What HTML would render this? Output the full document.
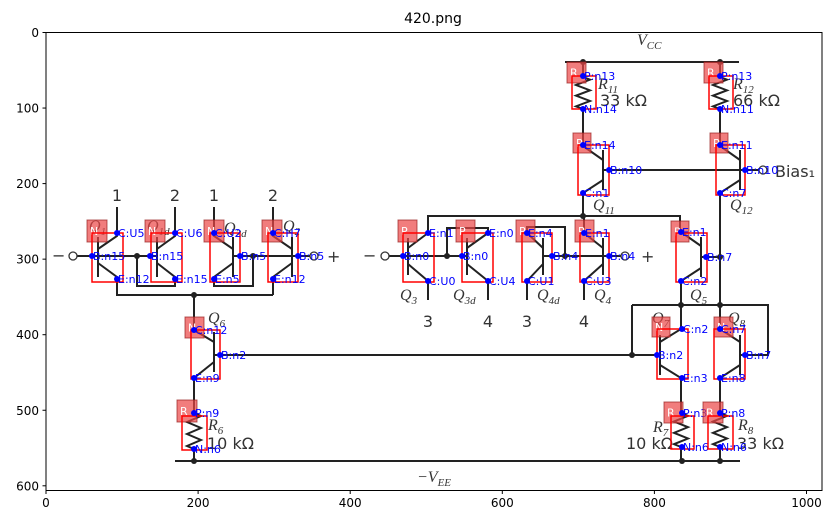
<!DOCTYPE html>
<html><head><meta charset="utf-8"><style>
html,body{margin:0;padding:0;background:#fff;}
svg{display:block;font-family:"DejaVu Sans","Liberation Sans",sans-serif;}
</style></head><body>
<svg id="fig" width="831" height="525" viewBox="0 0 831 525" xmlns="http://www.w3.org/2000/svg">
<text x="433" y="23" font-size="14" text-anchor="middle">420.png</text>
<g id="circuit" stroke="#222" stroke-width="2" fill="none"></g>
<g id="labels" fill="#333"></g>
<g id="annot"></g>
<rect x="46" y="32.5" width="776" height="458" fill="none" stroke="#000" stroke-width="1"/>
<g id="ticks" font-size="12" fill="#000"></g>
</svg>
<script>
const xTicks=[0,200,400,600,800,1000];
const yTicks=[0,100,200,300,400,500,600];
const NS="http://www.w3.org/2000/svg";
function X(v){return 46+v*0.7605;}
function Y(v){return 32.5+v*0.7555;}
function mk(tag,attrs,parent){const e=document.createElementNS(NS,tag);for(const k in attrs)e.setAttribute(k,attrs[k]);parent.appendChild(e);return e;}
const ticks=document.getElementById('ticks');
xTicks.forEach(v=>{
  const l=mk('line',{x1:X(v),x2:X(v),y1:490.5,y2:494,stroke:'#000'},ticks);
  
  
  const t=mk('text',{x:X(v),y:507,'text-anchor':'middle'},ticks);t.textContent=v;
  
  
});
yTicks.forEach(v=>{
  const l=mk('line',{x1:42.5,x2:46,y1:Y(v),y2:Y(v),stroke:'#000'},ticks);
  
  
  const t=mk('text',{x:39,y:Y(v)+4.5,'text-anchor':'end'},ticks);t.textContent=v;
  
  
});
const C=document.getElementById('circuit');
const wires=[
 [[77,256],[157,256]],
 [[98,237],[98,277]],[[98,249],[117,236],[117,207]],[[98,263],[117,277],[117,295],[273,295]],
 [[157,237],[157,277]],[[157,249],[175,236],[175,207]],[[157,263],[175,277],[175,286],[137,286],[137,256]],
 [[233,237],[233,277]],[[233,249],[214,236],[214,207]],[[233,263],[214,277],[214,286],[253,286],[253,256]],
 [[292,237],[292,277]],[[292,249],[273,236],[273,207]],[[292,263],[273,277],[273,295]],
 [[233,256],[310,256]],
 [[194,295],[194,330],[214,342]],[[214,332],[214,372]],[[214,362],[194,378],[194,413]],[[194,449],[194,461]],
 [[214,355],[660,355]],[[175,461],[740,461]],
 [[388,256],[467,256]],
 [[408,238],[408,275]],[[428,233],[408,248]],[[428,233],[428,216],[680,216],[680,232]],[[408,264],[428,281],[428,300]],
 [[467,238],[467,275]],[[488,233],[467,248]],[[488,233],[488,228],[447,228],[447,256]],[[467,264],[488,281],[488,300]],
 [[543,238],[543,275]],[[527,233],[543,248]],[[527,233],[527,227],[565,227],[565,256]],[[543,264],[527,281],[527,300]],
 [[603,238],[603,275]],[[584,233],[603,248]],[[584,233],[584,216]],[[603,264],[584,281],[584,300]],
 [[543,256],[622,256]],
 [[565,62],[739,62]],
 [[583,62],[583,77]],[[583,109],[583,146],[603,160]],[[603,150],[603,190]],[[603,180],[583,193],[583,216]],
 [[720,62],[720,77]],[[720,109],[720,146],[740,160]],[[740,150],[740,190]],[[740,180],[720,193],[720,329],[740,342]],
 [[603,170],[759,170]],
 [[681,232],[701,246]],[[701,237],[701,277]],[[701,268],[681,281],[681,329],[660,342]],[[701,257],[720,257]],
 [[632,305],[768,305],[768,355],[740,355]],[[632,305],[632,355]],
 [[660,335],[660,375]],[[660,365],[681,378],[681,413]],[[681,447],[681,461]],
 [[740,335],[740,375]],[[740,365],[720,378],[720,413]],[[720,447],[720,461]]
];
wires.forEach(w=>{
  const p=mk('polyline',{points:w.map(q=>q.join(',')).join(' ')},C);
  
  
});
function zig(x,y1,y2){let pts=[[x,y1]];const n=6,h=(y2-y1)/n;for(let i=0;i<n;i++)pts.push([x+(i%2?-7:7),y1+h*(i+0.5)]);pts.push([x,y2]);return pts;}
[[583,77,109],[720,77,109],[194,413,449],[681,413,447],[720,413,447]].forEach(r=>{
  const p=mk('polyline',{points:zig(r[0],r[1],r[2]).map(q=>q.join(',')).join(' ')},C);
  
  
});
[[137,256],[253,256],[194,295],[194,461],[682,461],[720,461],[447,256],[565,256],[583,216],[583,62],[720,62],[720,257],[681,305],[720,305],[632,355]].forEach(n=>{
  const c=mk('circle',{cx:n[0],cy:n[1],r:3,fill:'#222',stroke:'none'},C);
  
  
});
[[73,256],[314,256],[385,256],[625,256],[763,170]].forEach(n=>{
  const c=mk('circle',{cx:n[0],cy:n[1],r:4,fill:'#fff',stroke:'#333','stroke-width':1.3},C);
  
  
});
const L=document.getElementById('labels');
const txt=[
 ['−',52,261,16,''],['+',327,262,16,''],['−',363,261,16,''],['+',641,262,16,''],
 ['1',117,201,16,'m'],['2',175,201,16,'m'],['1',214,201,16,'m'],['2',273,201,16,'m'],
 ['3',428,327,16,'m'],['4',488,327,16,'m'],['3',527,327,16,'m'],['4',584,327,16,'m'],
 ['33 kΩ',600,106,16,''],['66 kΩ',733,106,16,''],['10 kΩ',207,449,16,''],['10 kΩ',626,449,16,''],['33 kΩ',737,449,16,''],
 ['Bias₁',775,177,16,'']
];
txt.forEach(t=>{
  const e=mk('text',{x:t[1],y:t[2],'font-size':t[3],'text-anchor':t[4]=='m'?'middle':'start'},L);e.textContent=t[0];
  
  
});
const ital=[
 ['Q','1',89,231],['Q','1d',147,231],['Q','2d',224,233],['Q','2',283,231],['Q','6',208,323],
 ['Q','3',400,300],['Q','3d',453,300],['Q','4d',537,300],['Q','4',594,300],['Q','5',690,300],
 ['Q','7',652,323],['Q','8',728,323],['Q','11',593,210],['Q','12',730,210],
 ['R','11',598,89],['R','12',733,89],['R','6',208,430],['R','7',653,432],['R','8',738,430],['V','CC',637,45],['−V','EE',417,482]
];
ital.forEach(t=>{
  const e=mk('text',{x:t[2],y:t[3],'font-size':16,'font-family':'Liberation Serif, serif','font-style':'italic'},L);
  e.textContent=t[0];
  const s=mk('tspan',{'font-size':11,dy:4},e);s.textContent=t[1];
  
  
});
const comps=[
 ['N',[87,220,20,22],[92,233,123,282],[['C:U5',117,233],['B:n15',92,256],['E:n12',117,279]]],
 ['N',[145,220,20,22],[151,233,182,282],[['C:U6',175,233],['B:n15',150,256],['E:n15',175,279]]],
 ['N',[204,220,20,22],[210,233,240,282],[['C:U2',214,233],['B:n5',240,256],['E:n5',214,279]]],
 ['N',[262,220,20,22],[268,233,298,282],[['C:H7',273,233],['B:n5',298,256],['E:n12',273,279]]],
 ['N',[185,317,19,21],[191,330,220,379],[['C:n12',194,330],['B:n2',220,355],['E:n9',194,378]]],
 ['R',[177,400,20,22],[182,416,207,450],[['P:n9',194,413],['N:n6',194,449]]],
 ['P',[398,220,19,22],[403,233,434,282],[['E:n1',428,233],['B:n0',403,256],['C:U0',428,281]]],
 ['P',[456,220,19,22],[462,233,493,282],[['E:n0',488,233],['B:n0',462,256],['C:U4',488,281]]],
 ['P',[516,220,19,22],[522,233,552,282],[['E:n4',527,233],['B:n4',552,256],['C:U1',527,281]]],
 ['P',[575,220,19,22],[580,233,609,282],[['E:n1',584,233],['B:n4',609,256],['C:U3',584,281]]],
 ['R',[567,62,19,21],[572,76,596,109],[['P:n13',583,76],['N:n14',583,109]]],
 ['R',[704,62,19,21],[709,76,733,109],[['P:n13',720,76],['N:n11',720,109]]],
 ['P',[573,133,18,20],[578,145,609,195],[['E:n14',583,145],['B:n10',609,170],['C:n1',583,193]]],
 ['P',[710,133,18,20],[716,145,745,195],[['E:n11',720,145],['B:n10',745,170],['C:n7',720,193]]],
 ['P',[671,221,18,21],[676,233,707,282],[['E:n1',681,232],['B:n7',706,257],['C:n2',681,281]]],
 ['N',[652,317,18,20],[657,329,688,379],[['C:n2',682,329],['B:n2',657,355],['E:n3',682,378]]],
 ['N',[714,317,19,20],[714,329,745,379],[['C:n7',720,329],['B:n7',745,355],['E:n8',720,378]]],
 ['R',[664,402,19,21],[671,416,694,449],[['P:n3',682,413],['N:n6',682,447]]],
 ['R',[703,402,20,21],[708,416,733,449],[['P:n8',720,413],['N:n6',720,447]]]
];
const A=document.getElementById('annot');
comps.forEach(c=>{
  const g=mk('g',{},A);
  
  
  const s=c[1];
  mk('rect',{x:s[0],y:s[1],width:s[2],height:s[3],fill:'rgba(235,70,70,0.7)',stroke:'rgba(150,30,30,0.7)','stroke-width':1},g);
  const lt=mk('text',{x:s[0]+3,y:s[1]+s[3]/2+4,'font-size':11,fill:'#fff'},g);lt.textContent=c[0];
  const b=c[2];
  mk('rect',{x:b[0],y:b[1],width:b[2]-b[0],height:b[3]-b[1],fill:'none',stroke:'#f00','stroke-width':1.5},g);
  c[3].forEach(p=>{
    mk('circle',{cx:p[1],cy:p[2],r:3,fill:'#00f'},g);
    const t=mk('text',{x:p[1]+1,y:p[2]+4,'font-size':11,fill:'#00f'},g);t.textContent=p[0];
  });
});
</script>
</body></html>
